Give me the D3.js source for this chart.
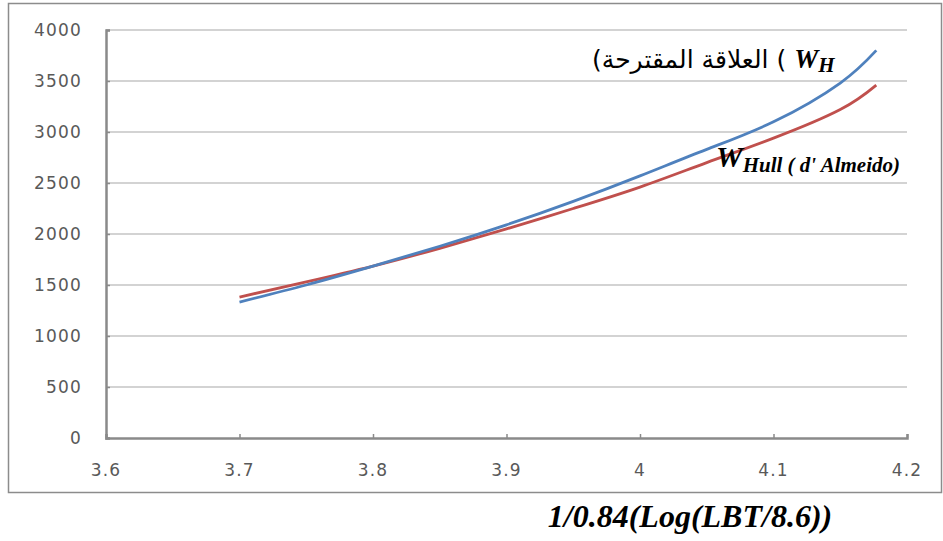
<!DOCTYPE html>
<html>
<head>
<meta charset="utf-8">
<script src="https://cdn.jsdelivr.net/npm/d3@7/dist/d3.min.js"></script>
<style>
  body { margin: 0; background: #fff; }
  .tick-label { font-family: "DejaVu Sans", sans-serif; font-size: 17px; fill: #595959; letter-spacing: 1.2px; }
  .bi { font-family: "Liberation Serif", "Times New Roman", serif; font-weight: bold; font-style: italic; fill: #000; }
</style>
</head>
<body>
<div id="chart"></div>
<script>
var width = 943, height = 541;

// values
var xVals   = [3.7, 3.75, 3.8, 3.85, 3.9, 3.95, 4.0, 4.05, 4.1, 4.15, 4.177];
var wH      = [1333, 1500, 1685, 1880, 2090, 2320, 2570, 2830, 3100, 3480, 3800];
var wHull   = [1382, 1530, 1685, 1860, 2050, 2250, 2460, 2700, 2940, 3220, 3460];
var xTicks  = [3.6, 3.7, 3.8, 3.9, 4, 4.1, 4.2];
var yTicks  = [0, 500, 1000, 1500, 2000, 2500, 3000, 3500, 4000];

var svg = d3.select("#chart").append("svg").attr("width", width).attr("height", height);

// outer chart frame
svg.append("rect")
    .attr("x", 8.5).attr("y", 3.5)
    .attr("width", 933).attr("height", 489)
    .attr("fill", "#fff")
    .attr("stroke", "#8c8c8c")
    .attr("stroke-width", 1.5);

var x = d3.scaleLinear().domain([3.6, 4.2]).range([106, 907]);
var y = d3.scaleLinear().domain([0, 4000]).range([438, 30]);

// gridlines
svg.append("g")
  .selectAll("line")
  .data(yTicks.filter(function(d) { return d > 0; }))
  .enter().append("line")
    .attr("x1", x(3.6)).attr("x2", x(4.2))
    .attr("y1", function(d) { return y(d); })
    .attr("y2", function(d) { return y(d); })
    .attr("stroke", "#c4c4c4")
    .attr("stroke-width", 1.5);

// y axis
var yAxis = svg.append("g")
    .attr("transform", "translate(" + x(3.6) + ",0)")
    .call(d3.axisRight(y).tickValues(yTicks).tickSize(4).tickFormat(""));
yAxis.select(".domain").attr("stroke", "#8a8a8a").attr("stroke-width", 2.5);
yAxis.selectAll(".tick line").attr("stroke", "#8a8a8a").attr("stroke-width", 1.5);

svg.append("g").selectAll("text")
  .data(yTicks)
  .enter().append("text")
    .attr("class", "tick-label")
    .attr("x", 82)
    .attr("y", function(d) { return y(d); })
    .attr("dy", "0.36em")
    .attr("text-anchor", "end")
    .text(function(d) { return d; });

// x axis
var xAxis = svg.append("g")
    .attr("transform", "translate(0," + y(0) + ")")
    .call(d3.axisTop(x).tickValues(xTicks).tickSize(4).tickFormat(""));
xAxis.select(".domain").attr("stroke", "#8a8a8a").attr("stroke-width", 2.5);
xAxis.selectAll(".tick line").attr("stroke", "#8a8a8a").attr("stroke-width", 1.5);

svg.append("g").selectAll("text")
  .data(xTicks)
  .enter().append("text")
    .attr("class", "tick-label")
    .attr("x", function(d) { return x(d); })
    .attr("y", 476)
    .attr("text-anchor", "middle")
    .text(function(d) { return d; });

// curves
var line = d3.line()
    .x(function(d) { return x(d[0]); })
    .y(function(d) { return y(d[1]); })
    .curve(d3.curveNatural);

svg.append("path")
    .datum(xVals.map(function(v, i) { return [v, wHull[i]]; }))
    .attr("d", line)
    .attr("fill", "none")
    .attr("stroke", "#c0504d")
    .attr("stroke-width", 2.8);

svg.append("path")
    .datum(xVals.map(function(v, i) { return [v, wH[i]]; }))
    .attr("d", line)
    .attr("fill", "none")
    .attr("stroke", "#4f81bd")
    .attr("stroke-width", 2.8);

// labels
var lab1 = svg.append("text").attr("x", 592).attr("y", 68).attr("direction", "ltr");
lab1.append("tspan")
    .attr("font-family", "'DejaVu Sans', sans-serif")
    .attr("font-size", 25)
    .text("(العلاقة المقترحة ( ");
lab1.append("tspan").attr("class", "bi").attr("font-size", 27).text("W");
lab1.append("tspan").attr("class", "bi").attr("font-size", 21).attr("dy", 4).text("H");

var lab2 = svg.append("text").attr("x", 716).attr("y", 167);
lab2.append("tspan").attr("class", "bi").attr("font-size", 30).text("W");
lab2.append("tspan").attr("class", "bi").attr("font-size", 21).attr("dy", 5).text("Hull ( d' Almeido)");

svg.append("text")
    .attr("class", "bi")
    .attr("x", 690).attr("y", 527)
    .attr("text-anchor", "middle")
    .attr("font-size", 32)
    .text("1/0.84(Log(LBT/8.6))");
</script>
</body>
</html>
